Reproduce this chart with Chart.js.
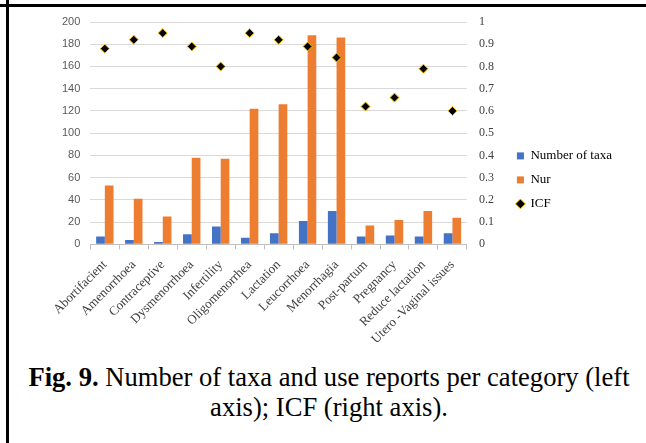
<!DOCTYPE html>
<html>
<head>
<meta charset="utf-8">
<script src="https://cdn.jsdelivr.net/npm/chart.js@4.4.1/dist/chart.umd.min.js"></script>
<style>
  body { margin: 0; background: #fff; width: 646px; height: 443px; overflow: hidden; position: relative; }
  #hline { position: absolute; left: 0; top: 4px; width: 646px; height: 3px; background: #000; }
  #vline { position: absolute; left: 6px; top: 0; width: 3px; height: 443px; background: #000; }
  #box { position: absolute; left: 0; top: 0; width: 646px; height: 355px; }
  #caption { position: absolute; left: 6px; top: 362px; width: 646px; text-align: center;
    font-family: "Liberation Serif", serif; font-size: 26.6px; line-height: 30px; color: #000; }
</style>
</head>
<body>
<div id="hline"></div>
<div id="vline"></div>
<div id="box"><canvas id="grafico"></canvas></div>
<div id="caption"><b>Fig. 9.</b> Number of taxa and use reports per category (left<br>axis); ICF (right axis).</div>
<script>
const categorias = ['Abortifacient', 'Amenorrhoea', 'Contraceptive', 'Dysmenorrhoea', 'Infertility',
  'Oligomenorrhea', 'Lactation', 'Leucorrhoea', 'Menorrhagia', 'Post-partum', 'Pregnancy',
  'Reduce lactation', 'Utero -Vaginal issues']
const numeroTaxa = [7, 4, 2, 9, 16, 6, 10, 21, 30, 7, 8, 7, 10]
const nur = [53, 41, 25, 78, 77, 122, 126, 188, 186, 17, 22, 30, 24]
const icf = [0.88, 0.92, 0.95, 0.89, 0.80, 0.95, 0.92, 0.89, 0.84, 0.62, 0.66, 0.79, 0.60]

const serif = 'Liberation Serif'

var ctx = document.getElementById('grafico')
var myChart = new Chart(ctx, {
  type: 'bar',
  data: {
    labels: categorias,
    datasets: [{
      label: 'Number of taxa',
      data: numeroTaxa,
      backgroundColor: '#4472C4',
      pointStyle: 'rect',
      yAxisID: 'y',
      order: 1
    }, {
      label: 'Nur',
      data: nur,
      backgroundColor: '#ED7D31',
      pointStyle: 'rect',
      yAxisID: 'y',
      order: 1
    }, {
      type: 'line',
      label: 'ICF',
      data: icf,
      showLine: false,
      pointStyle: 'rectRot',
      pointRadius: 4.5,
      backgroundColor: '#000000',
      borderColor: '#FFC000',
      borderWidth: 1,
      yAxisID: 'y1',
      order: 0
    }]
  },
  options: {
    responsive: true,
    maintainAspectRatio: false,
    animation: false,
    categoryPercentage: 0.6,
    barPercentage: 1,
    layout: { padding: { top: 22, left: 52, right: 24, bottom: 0 } },
    plugins: {
      tooltip: { enabled: false },
      legend: {
        position: 'right',
        align: 'start',
        maxWidth: 200,
        title: { display: true, text: ' ', padding: { top: 102, bottom: 0 } },
        labels: {
          sort: (a, b) => a.datasetIndex - b.datasetIndex,
          usePointStyle: true,
          boxWidth: 7,
          boxHeight: 7,
          padding: 11,
          color: '#000',
          font: { family: serif, size: 13 }
        }
      }
    },
    scales: {
      x: {
        grid: { offset: true, drawOnChartArea: false, drawTicks: true, tickLength: 5, color: '#bfbfbf' },
        border: { display: true, color: '#bfbfbf' },
        ticks: {
          autoSkip: false, maxRotation: 45, minRotation: 45, padding: 8,
          color: '#404040', font: { family: serif, size: 13 }
        }
      },
      y: {
        position: 'left',
        min: 0, max: 200,
        ticks: { stepSize: 20, padding: 10, color: '#595959', font: { family: 'Liberation Sans', size: 11 } },
        grid: { color: '#d9d9d9', drawTicks: false },
        border: { display: false }
      },
      y1: {
        position: 'right',
        min: 0, max: 1,
        ticks: {
          stepSize: 0.1, padding: 12, color: '#404040', font: { family: serif, size: 12 },
          callback: v => String(Math.round(v * 10) / 10)
        },
        grid: { drawOnChartArea: false, drawTicks: false },
        border: { display: false }
      }
    }
  }
})

console.log(myChart.chartArea)
</script>
</body>
</html>
